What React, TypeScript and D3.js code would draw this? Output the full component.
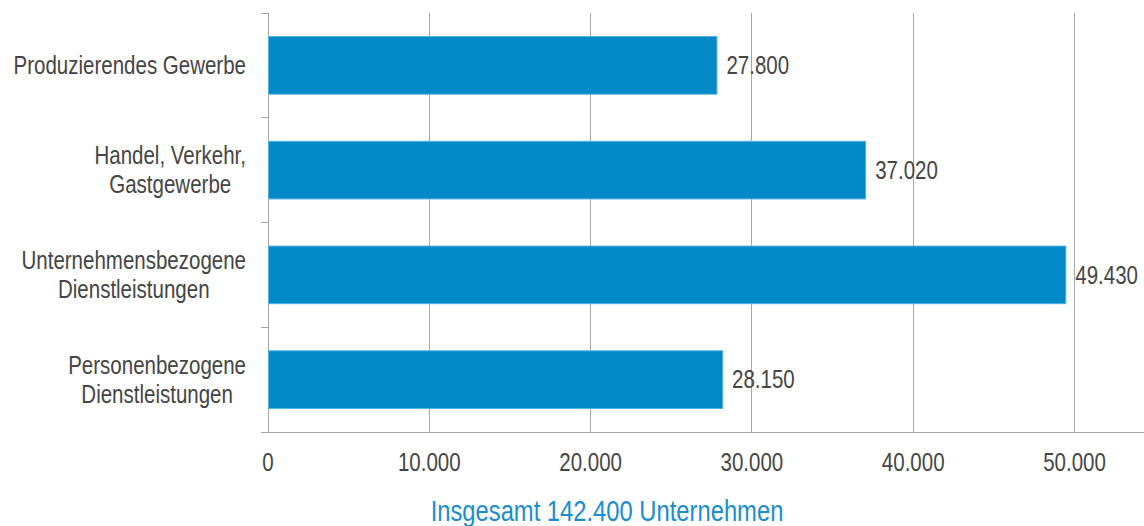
import React, { useEffect, useRef } from "react";
import * as d3 from "d3";

const categories: string[][] = [
  ["Produzierendes Gewerbe"],
  ["Handel, Verkehr,", "Gastgewerbe"],
  ["Unternehmensbezogene", "Dienstleistungen"],
  ["Personenbezogene", "Dienstleistungen"],
];
const values: number[] = [27800, 37020, 49430, 28150];
const xTicks: number[] = [0, 10000, 20000, 30000, 40000, 50000];
const title = "Insgesamt 142.400 Unternehmen";

const W = 1144;
const H = 526;
const FONT = "'Liberation Sans', Arial, sans-serif";
const SX = 0.82;
const fmt = (v: number) => d3.format(",")(v).replace(/,/g, ".");

export default function App() {
  const ref = useRef<SVGSVGElement>(null);
  useEffect(() => {
    const svg = d3.select(ref.current);
    svg.selectAll("*").remove();
    const left = 268, top = 13, bottom = 432;
    const x = d3.scaleLinear().domain([0, 10000]).range([left, left + 161.3]);
    const y = d3.scaleBand<number>().domain(d3.range(categories.length)).range([top, bottom]).paddingInner(0.45).paddingOuter(0.225);
    const yb = d3.scaleBand<number>().domain(d3.range(categories.length)).range([top, bottom]);

    const addText = (px: number, py: number, str: string, anchor: string, color = "#454545", size = 25) =>
      svg.append("text")
        .attr("transform", `translate(${px},${py}) scale(${SX},1)`)
        .attr("dy", "0.35em").attr("text-anchor", anchor)
        .attr("font-family", FONT).attr("font-size", size).attr("fill", color).text(str);

    // gridlines
    svg.append("g").selectAll("line").data(xTicks.slice(1)).join("line")
      .attr("x1", d => x(d)).attr("x2", d => x(d)).attr("y1", top).attr("y2", bottom)
      .attr("stroke", "#a6a6a6").attr("stroke-width", 1).attr("shape-rendering", "crispEdges");

    // y axis
    svg.append("line").attr("x1", left).attr("x2", left).attr("y1", top).attr("y2", bottom)
      .attr("stroke", "#a6a6a6").attr("shape-rendering", "crispEdges");
    const bounds = d3.range(categories.length + 1).map(i => (i < categories.length ? yb(i)! : bottom));
    svg.append("g").selectAll("line").data(bounds).join("line")
      .attr("x1", left - 7).attr("x2", left).attr("y1", d => d).attr("y2", d => d)
      .attr("stroke", "#a6a6a6").attr("shape-rendering", "crispEdges");
    // x axis
    svg.append("line").attr("x1", left - 7).attr("x2", W).attr("y1", bottom).attr("y2", bottom)
      .attr("stroke", "#a6a6a6").attr("shape-rendering", "crispEdges");

    // bars
    svg.append("g").selectAll("rect").data(values).join("rect")
      .attr("x", left + 0.5).attr("y", (_, i) => y(i)!)
      .attr("width", d => x(d) - left).attr("height", y.bandwidth())
      .attr("fill", "#0289c7").attr("stroke", "#4fb0e2").attr("stroke-width", 1);

    // value labels
    values.forEach((v, i) => addText(x(v) + 10, y(i)! + y.bandwidth() / 2, fmt(v), "start"));

    // x tick labels
    xTicks.forEach(t => addText(x(t), 462, t === 0 ? "0" : fmt(t), "middle"));

    // category labels
    const lh = 29;
    categories.forEach((lines, i) => {
      const cy = yb(i)! + yb.bandwidth() / 2;
      const nodes = lines.map((ln, j) => addText(0, cy + (j - (lines.length - 1) / 2) * lh, ln, "middle"));
      let maxW = 0;
      nodes.forEach(n => { maxW = Math.max(maxW, (n.node() as SVGTextElement).getComputedTextLength() * SX); });
      nodes.forEach((n, j) => n.attr("transform", `translate(${246 - maxW / 2},${cy + (j - (lines.length - 1) / 2) * lh}) scale(${SX},1)`));
    });

    // title
    addText(607, 511, title, "middle", "#1a8dcc", 29);
  }, []);
  return (
    <div style={{ position: "absolute", left: 0, top: 0 }}>
      <svg ref={ref} width={W} height={H} style={{ display: "block", background: "#fff" }} />
    </div>
  );
}
